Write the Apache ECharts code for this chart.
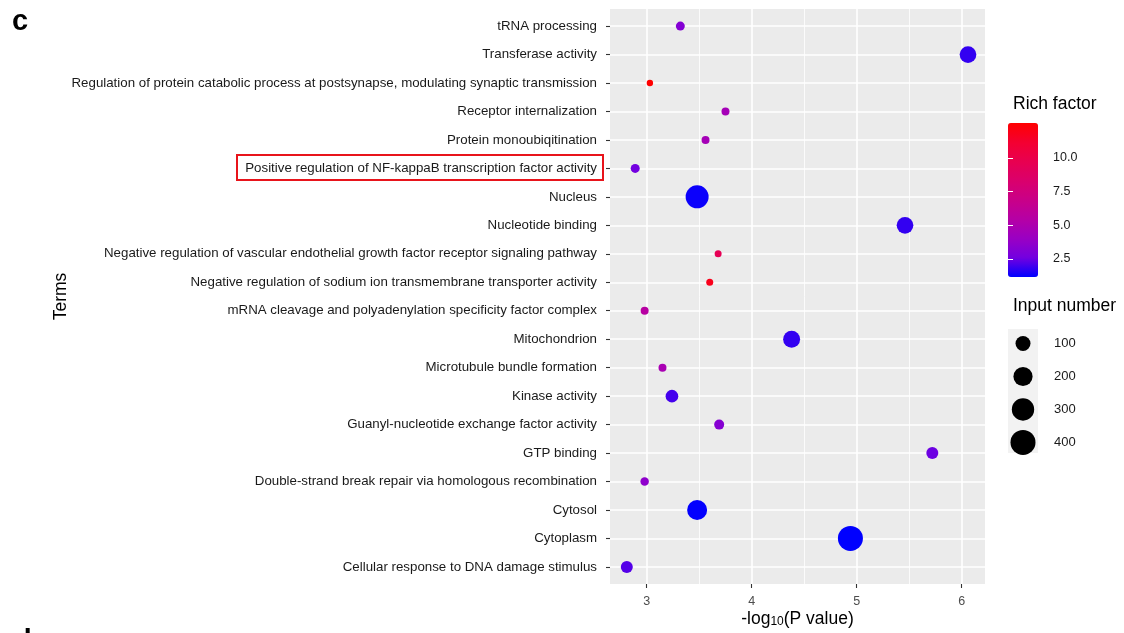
<!DOCTYPE html>
<html>
<head>
<meta charset="utf-8">
<script src="https://cdn.jsdelivr.net/npm/echarts@6/dist/echarts.min.js"></script>
<style>
html,body{margin:0;padding:0;background:#fff;}
#chart{width:1124px;height:633px;}
</style>
</head>
<body>
<div id="chart"></div>
<script>
// ---- data (top to bottom) ----
const terms = [
  'tRNA processing',
  'Transferase activity',
  'Regulation of protein catabolic process at postsynapse, modulating synaptic transmission',
  'Receptor internalization',
  'Protein monoubiqitination',
  'Positive regulation of NF-kappaB transcription factor activity',
  'Nucleus',
  'Nucleotide binding',
  'Negative regulation of vascular endothelial growth factor receptor signaling pathway',
  'Negative regulation of sodium ion transmembrane transporter activity',
  'mRNA cleavage and polyadenylation specificity factor complex',
  'Mitochondrion',
  'Microtubule bundle formation',
  'Kinase activity',
  'Guanyl-nucleotide exchange factor activity',
  'GTP binding',
  'Double-strand break repair via homologous recombination',
  'Cytosol',
  'Cytoplasm',
  'Cellular response to DNA damage stimulus'
];
const negLog10P = [3.32, 6.06, 3.03, 3.75, 3.56, 2.89, 3.48, 5.46, 3.68, 3.60, 2.98, 4.38, 3.15, 3.24, 3.69, 5.72, 2.98, 3.48, 4.94, 2.81];
const richFactor = [3.2, 1.8, 12.6, 4.6, 4.6, 2.6, 1.3, 1.8, 9.5, 11.8, 5.6, 1.8, 4.8, 2.0, 3.3, 2.5, 3.6, 1.2, 1.16, 2.2];
const inputNumber = [16, 137, 2, 9, 9, 16, 324, 137, 4, 4, 9, 144, 9, 59, 25, 49, 12, 225, 400, 49];

const xMajorTicks = [3, 4, 5, 6];
const xMinorTicks = [3.5, 4.5, 5.5];
const richTicks = [2.5, 5.0, 7.5, 10.0];
const sizeBreaks = [100, 200, 300, 400];
const richRange = [1.16, 12.6];
const xRange = [2.65, 6.222];

// ---- styling helpers ----
const FONT = "'Liberation Sans', Arial, Helvetica, sans-serif";
const gradientColors = ['#0000FF', '#7300E0', '#9A00C3', '#B500A5', '#C90088', '#DA006C', '#E80050', '#F40031', '#FF0000'];
const sizeFn = v => Math.sqrt(v) + 5;

const yIdx = terms.map((t, i) => i + 1);
const mainData = terms.map((t, i) => [negLog10P[i], i + 1, richFactor[i], inputNumber[i], t]);

const gridLines = []
  .concat(xMinorTicks.map(v => ({ xAxis: v, lineStyle: { color: '#ffffff', width: 0.8, type: 'solid' } })))
  .concat(xMajorTicks.map(v => ({ xAxis: v, lineStyle: { color: '#ffffff', width: 1.6, type: 'solid' } })))
  .concat(yIdx.map(v => ({ yAxis: v, lineStyle: { color: '#ffffff', width: 1.6, type: 'solid' } })));

const chart = echarts.init(document.getElementById('chart'), null, { renderer: 'canvas' });

const option = {
  backgroundColor: '#ffffff',
  animation: false,
  textStyle: { fontFamily: FONT },
  grid: [
    { left: 610, top: 9, width: 375, height: 575, show: true, backgroundColor: '#EBEBEB', borderWidth: 0, containLabel: false, outerBoundsMode: 'none' },
    { left: 1008, top: 123, width: 30, height: 154, show: false, containLabel: false, outerBoundsMode: 'none' },
    { left: 1008, top: 329, width: 30, height: 124, show: true, backgroundColor: '#F2F2F2', borderWidth: 0, containLabel: false, outerBoundsMode: 'none' }
  ],
  xAxis: [
    {
      gridIndex: 0, type: 'value', min: xRange[0], max: xRange[1],
      axisLine: { show: false },
      axisTick: { show: true, length: 4, lineStyle: { color: '#333333', width: 1.1 }, customValues: xMajorTicks },
      axisLabel: { customValues: xMajorTicks, color: '#4D4D4D', fontSize: 12.5, margin: 11, fontFamily: FONT },
      splitLine: { show: false },
      name: '{a|-log}{s|10}{a|(P value)}',
      nameLocation: 'middle', nameGap: 26, nameMoveOverlap: false,
      nameTextStyle: {
        rich: {
          a: { fontSize: 17.5, color: '#000', fontFamily: FONT },
          s: { fontSize: 12, color: '#000', fontFamily: FONT, padding: [6, 0, 0, 0] }
        }
      }
    },
    { gridIndex: 1, type: 'value', min: 0, max: 1, show: false },
    { gridIndex: 2, type: 'value', min: 0, max: 1, show: false }
  ],
  yAxis: [
    {
      gridIndex: 0, type: 'value', inverse: true, min: 0.4, max: 20.6,
      axisLine: { show: false },
      axisTick: { show: true, length: 4, lineStyle: { color: '#333333', width: 1.1 }, customValues: yIdx },
      axisLabel: {
        customValues: yIdx, color: '#1a1a1a', fontSize: 13.3, margin: 13, fontFamily: FONT,
        formatter: v => terms[Math.round(v) - 1] || ''
      },
      splitLine: { show: false },
      name: 'Terms', nameLocation: 'middle', nameGap: 540, nameRotate: 90, nameMoveOverlap: false,
      nameTextStyle: { fontSize: 17.5, color: '#000', fontFamily: FONT }
    },
    {
      gridIndex: 1, type: 'value', min: richRange[0], max: richRange[1], position: 'right', z: 10,
      axisLine: { show: false },
      axisTick: { show: true, inside: true, length: 5, lineStyle: { color: '#ffffff', width: 1 }, customValues: richTicks },
      axisLabel: { customValues: richTicks, color: '#1a1a1a', fontSize: 12.5, margin: 15, fontFamily: FONT, formatter: v => v.toFixed(1) },
      splitLine: { show: false }
    },
    {
      gridIndex: 1, type: 'value', min: richRange[0], max: richRange[1], position: 'left', z: 10,
      axisLine: { show: false },
      axisTick: { show: true, inside: true, length: 5, lineStyle: { color: '#ffffff', width: 1 }, customValues: richTicks },
      axisLabel: { show: false },
      splitLine: { show: false }
    },
    {
      gridIndex: 2, type: 'value', inverse: true, min: 0.56, max: 4.32, position: 'right',
      axisLine: { show: false }, axisTick: { show: false },
      axisLabel: { customValues: [1, 2, 3, 4], color: '#1a1a1a', fontSize: 13, margin: 16, fontFamily: FONT,
        formatter: v => String(sizeBreaks[Math.round(v) - 1]) },
      splitLine: { show: false }
    }
  ],
  visualMap: [{
    type: 'continuous', show: true, seriesIndex: 1, dimension: 2,
    min: richRange[0], max: richRange[1], calculable: false, realtime: false,
    left: 1008, top: 123, itemWidth: 30, itemHeight: 154, padding: 0,
    inRange: { color: gradientColors },
    text: null, showLabel: false, hoverLink: false
  }],
  graphic: [
    { type: 'text', left: 12, top: 7, style: { text: 'c', font: 'bold 29px ' + FONT, fill: '#000' } },
    { type: 'text', left: 14, top: 627, style: { text: 'd', font: 'bold 29px ' + FONT, fill: '#000' } },
    { type: 'text', left: 1013, top: 95, style: { text: 'Rich factor', font: '17.5px ' + FONT, fill: '#000' } },
    { type: 'text', left: 1013, top: 297, style: { text: 'Input number', font: '17.5px ' + FONT, fill: '#000' } },
    { type: 'rect', shape: { x: 237, y: 155, width: 366, height: 25 }, style: { fill: 'none', stroke: '#E8141B', lineWidth: 2 }, z: 100 }
  ],
  series: [
    {
      type: 'scatter', xAxisIndex: 0, yAxisIndex: 0, data: [], z: 1, silent: true,
      markLine: { silent: true, symbol: 'none', label: { show: false }, data: gridLines, animation: false, emphasis: { disabled: true } }
    },
    {
      type: 'scatter', xAxisIndex: 0, yAxisIndex: 0, z: 5,
      data: mainData,
      symbolSize: d => sizeFn(d[3]),
      itemStyle: { opacity: 1 }
    },
    {
      type: 'scatter', xAxisIndex: 2, yAxisIndex: 3, z: 5,
      data: sizeBreaks.map((v, i) => [0.5, i + 1, v]),
      symbolSize: d => sizeFn(d[2]),
      itemStyle: { color: '#000000', opacity: 1 }
    }
  ]
};
chart.setOption(option);
</script>
</body>
</html>
